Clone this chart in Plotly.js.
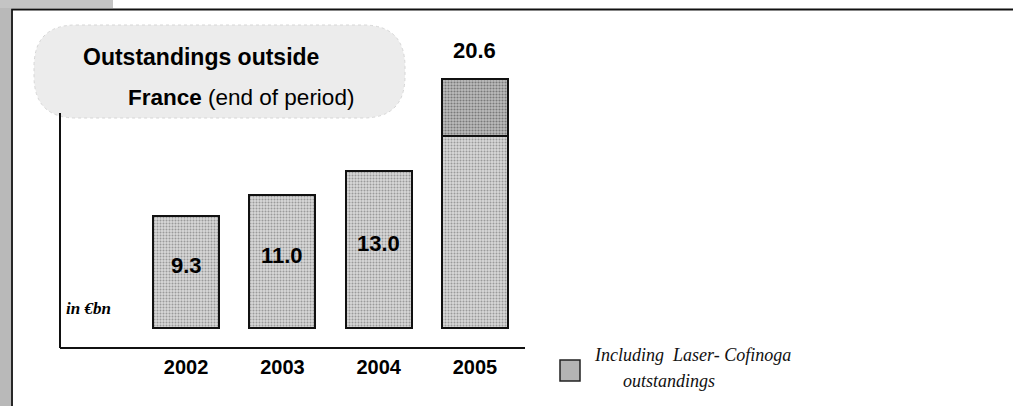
<!DOCTYPE html>
<html>
<head>
<meta charset="utf-8">
<script src="https://cdn.plot.ly/plotly-3.0.1.min.js"></script>
<style>html,body{margin:0;padding:0;background:#fff;}#chart{width:1013px;height:406px;}</style>
</head>
<body>
<div id="chart"></div>
<script>
// ---- data ----
const years = ['2002', '2003', '2004', '2005'];
const totals = [9.3, 11.0, 13.0, 20.6];
const excludingLaser = [9.3, 11.0, 13.0, 15.9];
const laserCofinoga = [0, 0, 0, 4.7];
const insideLabels = ['9.3', '11.0', '13.0', ''];
const topLabels = ['', '', '', '20.6'];
const titleLine1 = 'Outstandings outside';
const titleLine2 = '<b>France</b> (end of period)';
const unitLabel = 'in €bn';
const legendLine1 = 'Including  Laser- Cofinoga';
const legendLine2 = 'outstandings';

// ---- geometry helpers (pixel -> paper) ----
const W = 1013, H = 406;
const M = {l: 60, r: 488, t: 60, b: 59};
const PW = W - M.l - M.r, PH = H - M.t - M.b;
const X = px => (px - M.l) / PW;
const Y = py => (H - M.b - py) / PH;

const numFont = 'Liberation Sans Narrow, Arial Narrow, Liberation Sans, Arial, sans-serif';
const titleFont = 'Liberation Sans, Arial, Helvetica, sans-serif';
const serif = 'Liberation Serif, Times New Roman, serif';

const traces = [
  {
    type: 'bar', x: years, y: excludingLaser, name: 'Outstandings',
    marker: {
      color: '#cfcfcf',
      line: {color: '#111', width: 2},
      pattern: {shape: '.', fgcolor: '#9a9a9a', bgcolor: '#d8d8d8', size: 3, solidity: 0.35}
    },
    hoverinfo: 'skip', showlegend: false
  },
  {
    type: 'bar', x: years, y: laserCofinoga, name: 'Including Laser- Cofinoga outstandings',
    marker: {
      color: '#b0b0b0',
      line: {color: '#111', width: 2},
      pattern: {shape: '.', fgcolor: '#7a7a7a', bgcolor: '#bdbdbd', size: 3, solidity: 0.4}
    },
    hoverinfo: 'skip', showlegend: false
  }
];

const annotations = [];
years.forEach((yr, i) => {
  if (insideLabels[i]) {
    annotations.push({
      x: i, y: totals[i] / 2 + 0.5, xref: 'x', yref: 'y', text: '<b>' + insideLabels[i] + '</b>',
      showarrow: false, font: {family: numFont, size: 22, color: '#000'}
    });
  }
  if (topLabels[i]) {
    annotations.push({
      x: i, y: totals[i], xref: 'x', yref: 'y', text: '<b>' + topLabels[i] + '</b>', yanchor: 'bottom', yshift: 14,
      showarrow: false, font: {family: numFont, size: 22, color: '#000'}
    });
  }
});
annotations.push(
  {x: X(81), y: Y(57), xref: 'paper', yref: 'paper', xanchor: 'left', yanchor: 'middle', text: '<b>' + titleLine1 + '</b>',
   showarrow: false, font: {family: titleFont, size: 23, color: '#000'}},
  {x: X(126), y: Y(97), xref: 'paper', yref: 'paper', xanchor: 'left', yanchor: 'middle', text: titleLine2,
   showarrow: false, font: {family: titleFont, size: 22.5, color: '#000'}},
  {x: X(64), y: Y(308), xref: 'paper', yref: 'paper', xanchor: 'left', yanchor: 'middle', text: '<b><i>' + unitLabel + '</i></b>',
   showarrow: false, font: {family: serif, size: 17, color: '#000'}},
  {x: X(592), y: Y(355), xref: 'paper', yref: 'paper', xanchor: 'left', yanchor: 'middle', text: '<i>' + legendLine1 + '</i>',
   showarrow: false, font: {family: serif, size: 18, color: '#111'}},
  {x: X(621), y: Y(381), xref: 'paper', yref: 'paper', xanchor: 'left', yanchor: 'middle', text: '<i>' + legendLine2 + '</i>',
   showarrow: false, font: {family: serif, size: 18, color: '#111'}}
);

// rounded blob path for the title
function roundRect(x0, y0, x1, y1, r) {
  const p = [];
  p.push('M', X(x0 + r), Y(y0));
  p.push('L', X(x1 - r), Y(y0));
  p.push('Q', X(x1), Y(y0), X(x1), Y(y0 + r));
  p.push('L', X(x1), Y(y1 - r));
  p.push('Q', X(x1), Y(y1), X(x1 - r), Y(y1));
  p.push('L', X(x0 + r), Y(y1));
  p.push('Q', X(x0), Y(y1), X(x0), Y(y1 - r));
  p.push('L', X(x0), Y(y0 + r));
  p.push('Q', X(x0), Y(y0), X(x0 + r), Y(y0));
  p.push('Z');
  return p.join(' ');
}

const shapes = [
  // left grey strip and top-left strip
  {type: 'rect', xref: 'paper', yref: 'paper', x0: X(0), x1: X(11), y0: Y(0), y1: Y(H), fillcolor: '#b9b9b9', line: {width: 0}, layer: 'below'},
  {type: 'rect', xref: 'paper', yref: 'paper', x0: X(0), x1: X(113), y0: Y(0), y1: Y(8), fillcolor: '#c4c4c4', line: {width: 0}, layer: 'below'},
  // frame
  {type: 'path', xref: 'paper', yref: 'paper',
   path: 'M ' + X(12) + ' ' + Y(H) + ' L ' + X(12) + ' ' + Y(9.5) + ' L ' + X(W) + ' ' + Y(9.5),
   line: {color: '#111', width: 1.8}, layer: 'above'},
  // title blob
  {type: 'path', xref: 'paper', yref: 'paper', path: roundRect(34, 25, 405, 118, 42),
   fillcolor: '#ececec', line: {color: '#d6d6d6', width: 1, dash: 'dot'}, layer: 'below'},
  // left axis line
  {type: 'line', xref: 'paper', yref: 'paper', x0: X(60), x1: X(60), y0: Y(348), y1: Y(113),
   line: {color: '#111', width: 2}, layer: 'above'},
  // legend swatch
  {type: 'rect', xref: 'paper', yref: 'paper', x0: X(560), x1: X(580), y0: Y(360), y1: Y(381),
   fillcolor: '#b4b4b4', line: {color: '#222', width: 1.5}, layer: 'above'}
];

const layout = {
  width: W, height: H,
  margin: {l: M.l, r: M.r, t: M.t, b: M.b, pad: 0},
  paper_bgcolor: '#ffffff', plot_bgcolor: 'rgba(0,0,0,0)',
  barmode: 'stack', bargap: 0.315,
  showlegend: false,
  xaxis: {
    type: 'category', range: [-1.31, 3.52], fixedrange: true,
    showline: true, linecolor: '#111', linewidth: 2, showgrid: false, zeroline: false,
    ticks: '', ticklabelstandoff: 1,
    tickfont: {family: numFont, size: 20, color: '#000', weight: 700}
  },
  yaxis: {
    range: [-1.57, 22.2], visible: false, showgrid: false, zeroline: false, fixedrange: true
  },
  annotations: annotations,
  shapes: shapes
};

Plotly.newPlot('chart', traces, layout, {staticPlot: true, displayModeBar: false});
</script>
</body>
</html>
